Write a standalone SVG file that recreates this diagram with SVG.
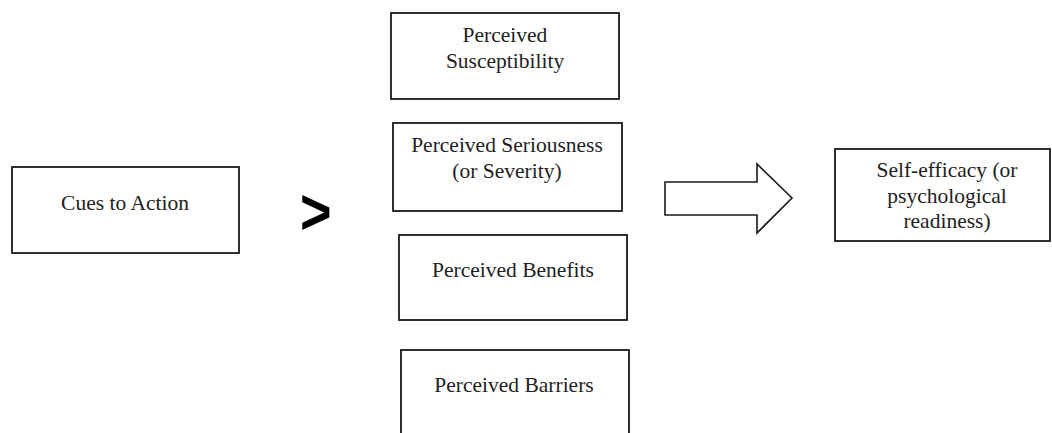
<svg xmlns="http://www.w3.org/2000/svg" width="1052" height="433" viewBox="0 0 1052 433">
<style>
.box{fill:#fff;stroke:#1a1a1a;stroke-width:1.8}
.t{font-family:"Liberation Serif","Times New Roman",serif;font-size:21.5px;fill:#222;text-anchor:middle}
.arrow{fill:#fff;stroke:#1a1a1a;stroke-width:1.6;stroke-linejoin:miter}
</style>
<rect width="1052" height="433" fill="#fff"/>
<g id="cues">
<rect class="box" x="12" y="167" width="227" height="86"/>
<text class="t" x="125" y="210">Cues to Action</text>
</g>
<g id="susceptibility">
<rect class="box" x="391" y="13" width="228" height="86"/>
<text class="t" x="505" y="42">Perceived</text>
<text class="t" x="505" y="68">Susceptibility</text>
</g>
<g id="seriousness">
<rect class="box" x="393" y="123" width="229" height="88"/>
<text class="t" x="507" y="152">Perceived Seriousness</text>
<text class="t" x="507" y="178">(or Severity)</text>
</g>
<g id="benefits">
<rect class="box" x="399" y="235" width="228" height="85"/>
<text class="t" x="513" y="277">Perceived Benefits</text>
</g>
<g id="barriers">
<rect class="box" x="401" y="350" width="228" height="100"/>
<text class="t" x="514" y="392">Perceived Barriers</text>
</g>
<g id="selfefficacy">
<rect class="box" x="835" y="149" width="215" height="92"/>
<text class="t" x="947" y="177">Self-efficacy (or</text>
<text class="t" x="947" y="203">psychological</text>
<text class="t" x="947" y="228">readiness)</text>
</g>
<g id="connectors">
<text transform="translate(300,233.5) scale(1,1.2)" font-family="Liberation Sans, Arial, sans-serif" font-weight="bold" font-size="54" fill="#000">&gt;</text>
<polygon class="arrow" points="665,182 757,182 757,164 792,198 757,233 757,215 665,215"/>
</g>
</svg>
